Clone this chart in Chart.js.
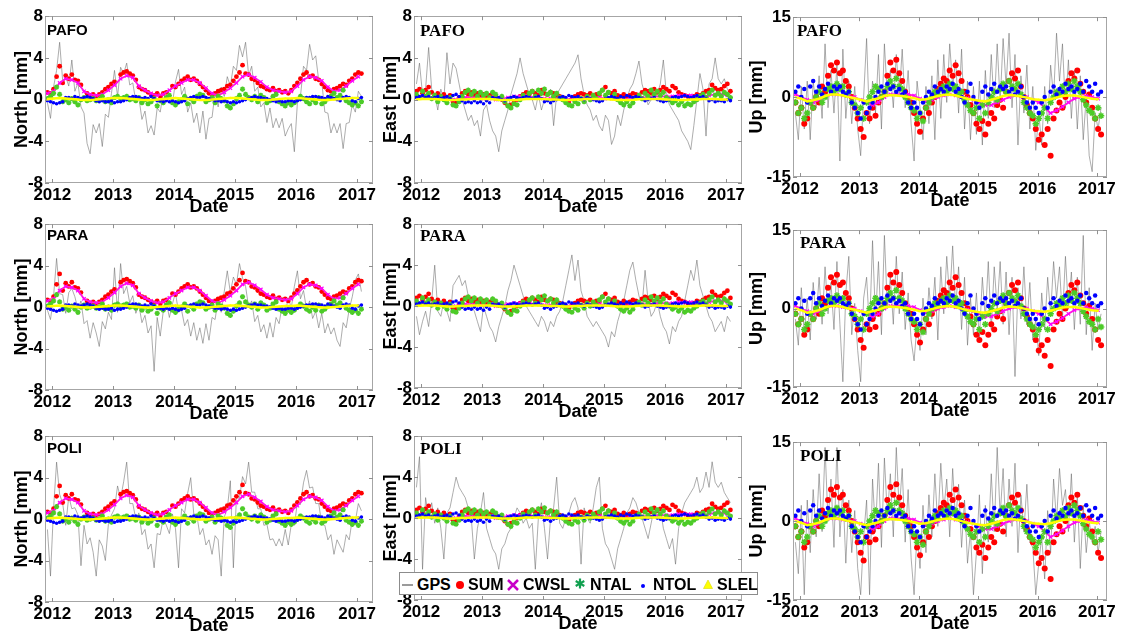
<!DOCTYPE html>
<html>
<head>
<meta charset="utf-8">
<script src="https://cdn.jsdelivr.net/npm/chart.js@4.4.1/dist/chart.umd.min.js"></script>
<style>
  html, body { margin: 0; padding: 0; background: #fff; }
  #page { position: relative; width: 1121px; height: 635px; overflow: hidden; background: #fff; }
  #page canvas { position: absolute; }
  .stn { position: absolute; font-weight: bold; color: #000; line-height: 1; white-space: nowrap; z-index: 5; }
  .stn.sans { font-family: "Liberation Sans", Arial, sans-serif; font-size: 15px; }
  .stn.serif { font-family: "Liberation Serif", "Times New Roman", serif; font-size: 17px; }
  #legend { position: absolute; left: 399px; top: 572px; width: 357px; height: 21px;
            border: 1px solid #8c8c8c; background: #fff; z-index: 10; }
  #legend span { position: absolute; top: 4px; font: bold 16px "Liberation Sans", Arial, sans-serif;
                 line-height: 1; color: #000; white-space: nowrap; }
  #legend svg { position: absolute; left: 0; top: 0; }
</style>
</head>
<body>
<div id="page">
  <div class="stn sans"  style="left:47px;top:22px">PAFO</div>
  <div class="stn serif" style="left:420px;top:22px">PAFO</div>
  <div class="stn serif" style="left:797px;top:22px">PAFO</div>
  <div class="stn sans"  style="left:47px;top:227px">PARA</div>
  <div class="stn serif" style="left:420px;top:227px">PARA</div>
  <div class="stn serif" style="left:800px;top:234px">PARA</div>
  <div class="stn sans"  style="left:47px;top:440px">POLI</div>
  <div class="stn serif" style="left:420px;top:440px">POLI</div>
  <div class="stn serif" style="left:800px;top:447px">POLI</div>

  <div id="legend">
    <svg width="357" height="21">
      <line x1="2" y1="12" x2="13" y2="12" stroke="#7a7a7a" stroke-width="1.5"/>
      <circle cx="60" cy="12" r="4" fill="#ff0000"/>
      <path d="M108 7 L118 17 M118 7 L108 17" stroke="#c800c8" stroke-width="2.5" fill="none"/>
      <path d="M180 5.5 L180 15.5 M175.7 8 L184.3 13 M175.7 13 L184.3 8" stroke="#11a050" stroke-width="2.2" fill="none"/>
      <circle cx="243" cy="13" r="2" fill="#0000ff"/>
      <polygon points="308,7 312.5,15.5 303.5,15.5" fill="#ffff00" stroke="#d8d800" stroke-width="0.6"/>
    </svg>
    <span style="left:17px">GPS</span>
    <span style="left:68px">SUM</span>
    <span style="left:123px">CWSL</span>
    <span style="left:190px">NTAL</span>
    <span style="left:253px">NTOL</span>
    <span style="left:317px">SLEL</span>
  </div>
</div>

<script>
// ---------------------------------------------------------------------------
// Sampling epochs (decimal years): dense series every 0.05 yr, smooth models every 0.1 yr
// ---------------------------------------------------------------------------
const EPOCH_START = 2011.92;
const EPOCH_STEP = 0.05;
const EPOCH_COUNT = 104;
const MODEL_STEP = 0.1;
const MODEL_COUNT = 52;

const YEAR_TICKS = [2012, 2013, 2014, 2015, 2016, 2017];
const NE_TICKS = [-8, -4, 0, 4, 8];
const UP_TICKS = [-15, 0, 15];

// ---------------- North component, loading models [mm] ----------------
const NORTH_SUM = [
  0.7,0.6,1.0,2.2,3.2,1.6,2.3,2.0,2.4,1.9,1.8,1.4,null,0.6,0.4,0.5,0.3,0.5,0.7,1.0,
  1.2,1.5,1.7,null,2.4,2.6,2.7,2.5,2.3,1.9,1.2,1.0,0.9,0.7,0.5,0.4,0.6,0.3,0.6,0.7,
  null,1.3,1.2,1.5,1.8,2.0,2.2,1.9,2.0,1.8,1.5,1.2,0.9,0.6,0.5,0.6,0.8,0.9,1.0,1.3,
  1.4,1.8,2.2,2.6,3.3,2.5,2.4,2.0,1.9,1.6,1.3,1.2,1.0,0.9,1.1,0.8,0.9,0.7,0.8,0.6,
  0.9,1.3,1.6,2.0,2.4,2.6,2.2,2.3,2.0,1.9,1.5,1.2,0.9,0.8,1.0,1.1,1.3,1.5,1.4,1.8,
  2.0,2.4,2.6,2.5
];
const NORTH_NTAL = [
  0.1,0.3,0.6,1.2,0.5,-0.2,0.0,-0.3,0.1,-0.2,-0.5,0.0,0.2,-0.1,0.0,0.1,-0.1,0.0,0.3,-0.2,
  0.0,-0.3,0.2,0.3,0.1,0.2,0.3,0.0,0.1,-0.1,0.2,-0.3,0.0,-0.4,-0.2,0.1,-0.6,-0.1,-0.3,0.2,
  0.4,-0.3,-0.5,-0.2,0.0,0.3,-0.4,0.1,-0.2,0.3,0.5,0.4,-0.2,0.0,0.2,-0.3,0.3,0.1,-0.1,-0.6,
  -0.8,-0.4,0.1,0.4,1.0,0.5,0.2,0.0,0.3,-0.2,0.4,0.2,-0.3,-0.1,0.3,0.5,-0.2,-0.4,-0.6,-0.3,
  -0.5,-0.3,0.0,0.3,0.1,-0.2,-0.4,0.0,-0.3,0.2,-0.4,-0.2,0.1,0.3,0.6,0.2,0.4,0.9,-0.1,-0.3,
  -0.5,-0.3,-0.6,-0.2
];
const NORTH_NTOL = [
  -0.1,-0.2,-0.3,-0.4,-0.3,-0.2,0.2,0.2,0.1,0.3,0.2,0.1,0.2,0.3,0.2,0.1,-0.1,-0.2,-0.1,-0.2,
  -0.2,-0.1,-0.3,-0.2,-0.2,-0.1,0.0,0.2,0.3,0.3,0.2,0.1,0.2,0.1,0.3,0.1,-0.1,-0.1,-0.2,-0.1,
  -0.2,-0.1,-0.2,-0.3,-0.2,-0.1,0.1,0.2,0.3,0.2,0.2,0.3,0.2,0.1,0.0,-0.1,-0.1,-0.2,-0.1,-0.2,
  -0.3,-0.2,-0.3,-0.2,-0.1,0.0,0.1,0.2,0.3,0.2,0.2,0.1,0.1,0.0,-0.1,-0.2,-0.1,-0.2,-0.2,-0.1,
  -0.1,-0.2,-0.1,0.0,0.1,0.2,0.2,0.3,0.3,0.2,0.2,0.1,0.3,0.2,0.1,0.0,-0.1,0.2,0.3,0.2,
  -0.1,-0.2,0.1,0.2
];
const NORTH_CWSL = [
  0.6,0.8,1.6,2.0,1.9,1.6,0.8,0.5,0.4,0.5,
  0.9,1.4,2.0,2.3,2.1,1.3,0.9,0.6,0.4,0.5,
  0.9,1.3,1.6,1.9,1.9,1.6,1.1,0.6,0.4,0.7,
  1.1,1.6,2.2,2.4,2.1,1.7,1.2,0.9,0.8,0.7,
  0.8,1.3,1.9,2.2,2.1,1.8,1.2,0.8,0.9,1.3,
  1.8,2.2
];
const NORTH_SLEL = [
  0.05,0.1,0.15,0.1,0.05,0.0,-0.05,-0.05,0.0,0.05,
  0.1,0.15,0.15,0.1,0.05,0.0,-0.05,-0.05,0.0,0.05,
  0.1,0.15,0.1,0.05,0.0,-0.05,-0.05,0.0,0.05,0.1,
  0.15,0.15,0.1,0.05,0.0,-0.05,-0.05,0.0,0.05,0.1,
  0.1,0.15,0.1,0.05,0.0,-0.05,-0.05,0.0,0.05,0.1,
  0.15,0.15
];

// ---------------- East component, loading models [mm] ----------------
const EAST_SUM = [
  0.8,1.0,0.6,0.9,1.2,0.7,0.4,0.6,0.3,0.5,0.2,0.4,-0.2,-0.3,0.2,0.6,0.8,0.5,0.7,0.4,
  0.6,0.3,0.5,0.2,0.4,0.6,0.3,0.1,0.0,-0.3,-0.6,-0.5,-0.3,0.0,0.3,0.5,0.7,0.5,0.8,0.6,
  0.4,0.9,0.6,0.5,0.7,0.6,0.4,0.3,0.2,-0.1,-0.2,0.1,0.3,0.5,0.6,0.5,0.4,0.6,0.3,0.5,
  0.4,0.9,1.2,0.7,0.6,0.8,0.4,0.3,0.5,0.2,0.4,0.6,0.5,0.3,0.7,0.9,0.8,0.6,1.0,0.7,
  0.9,1.2,1.0,0.8,1.3,1.1,0.7,0.5,0.4,0.3,0.2,0.3,0.5,0.4,0.6,0.8,0.9,1.4,1.1,0.9,
  1.0,1.3,1.5,0.8
];
const EAST_NTAL = [
  0.5,0.2,0.8,0.3,0.6,0.1,0.4,-0.2,0.3,0.0,-0.3,0.2,-0.5,-0.6,-0.2,0.3,0.7,0.9,0.5,0.8,
  0.3,0.7,0.4,0.6,0.2,0.7,0.5,0.1,0.3,-0.2,-0.6,-0.8,-0.4,-0.5,0.0,0.4,0.2,0.6,0.8,0.3,
  0.9,0.6,1.0,0.5,0.7,0.3,0.6,0.2,0.0,-0.3,-0.5,-0.6,-0.2,-0.4,0.1,-0.2,0.3,0.0,0.4,0.1,
  0.6,0.9,0.4,0.7,0.2,0.5,0.0,-0.3,-0.5,-0.2,-0.6,-0.3,0.2,0.4,0.1,0.6,0.3,0.9,0.5,0.8,
  0.4,0.7,0.2,0.0,-0.3,-0.1,-0.5,-0.2,-0.6,-0.4,-0.5,-0.2,0.0,0.3,0.5,0.2,0.6,0.9,0.4,0.6,
  0.3,0.7,0.5,0.2
];
const EAST_NTOL = [
  0.2,0.3,0.4,0.2,0.3,0.1,0.2,0.3,0.1,0.2,0.3,0.1,0.4,0.5,0.3,-0.1,-0.3,-0.2,-0.3,-0.1,
  -0.3,-0.2,-0.4,-0.1,-0.3,0.2,0.1,0.2,0.0,-0.1,0.1,0.2,0.3,0.2,0.1,0.2,0.3,0.2,0.1,0.2,
  0.3,0.1,-0.2,-0.1,-0.3,-0.1,0.0,0.2,0.3,0.2,0.4,0.3,0.2,0.3,0.1,0.0,0.2,0.1,0.0,-0.1,
  -0.2,-0.1,0.1,0.2,0.3,0.2,0.1,0.3,0.2,0.4,0.3,0.2,0.3,0.2,0.1,-0.1,0.0,0.1,0.2,0.0,
  -0.1,-0.2,-0.1,0.0,0.2,0.3,0.2,0.3,0.4,0.3,0.2,0.3,0.4,0.2,0.3,0.1,-0.1,0.0,-0.2,-0.1,
  -0.1,-0.2,0.0,-0.1
];
const EAST_CWSL = [
  0.3,0.3,0.2,0.2,0.1,0.0,0.0,0.1,0.2,0.2,
  0.2,0.1,0.1,0.0,0.1,0.2,0.3,0.3,0.2,0.2,
  0.2,0.1,0.1,0.1,0.0,0.0,0.1,0.1,0.2,0.2,
  0.2,0.1,0.1,0.0,0.0,0.1,0.2,0.2,0.2,0.3,
  0.3,0.3,0.3,0.4,0.4,0.4,0.3,0.3,0.4,0.5,
  0.5,0.4
];
const EAST_SLEL = [
  0.0,0.05,0.05,0.05,0.0,-0.05,-0.05,0.0,0.0,0.05,
  0.05,0.05,0.05,0.0,-0.05,-0.05,-0.05,0.0,0.05,0.05,
  0.05,0.05,0.0,0.0,-0.05,-0.05,0.0,0.0,0.05,0.05,
  0.05,0.05,0.0,-0.05,-0.05,-0.05,0.0,0.05,0.05,0.05,
  0.05,0.0,0.0,-0.05,-0.05,0.0,0.0,0.05,0.05,0.05,
  0.0,0.0
];

// ---------------- Up component, loading models [mm] ----------------
const UP_SUM = [
  -1,-3,-2,-5,-4,-1,-2,0,-1,2,1,4,6,5,6.5,4.5,5,3,2,0,
  -2,-4,-6,-7.5,-3,-4,-2,-3.5,-1,0,1,4,6.5,5,7,4.5,3,1,0,-1,
  -3,-5,-6.5,-4,-2,-3,-1,0,1.5,2.5,3.5,3,5,4,6,4.5,3,1,0,-1.5,
  -3,-5,-6,-4.5,-7,-5,-3,-4,-1.5,-0.5,-2,1,3,4.5,3.5,5,2,0,-1.5,-3,
  -4,-6,-8,-7,-9,-6,-11,-4,-2.5,-1,-2,0,3,4.5,3.5,5,2.5,1,-1,0.5,
  -2,-4,-6,-7
];
const UP_NTAL = [
  -1,-3,-2,-4,-3,-1,-2,0,1,-1,0,1.5,2,1,2.5,1.5,2,0.5,1,-1,
  -1.5,-3,-2,-4,-1,0,1,2,1.5,0,1,2,3,2,3.5,2,1.5,0,-1,-2,
  -2.5,-4,-3,-4.5,-2,-1,0,1,0.5,1.5,2,1,2.5,1.5,2,0.5,1,-0.5,-1.5,-2.5,
  -3,-2,-4,-1.5,-3,-1,0,1,-0.5,1.5,2.5,1,3,2,1.5,2.5,0.5,-1,-2,-3,
  -3.5,-5,-4,-3,-2,-4,-1,0,1,0.5,2,1,2.5,1.5,3,2,1,-0.5,-1.5,-2.5,
  -3,-4,-2,-3.5
];
const UP_NTOL = [
  1,2,0,1.5,-1,2,3,1,2,0.5,1.5,2.5,1,2,1.5,2,1,0.5,1,-1,
  -2,-3,-4,-1,-3,-2,-1,0,1,2,1,2.5,1.5,2,1,1.5,0.5,1,-1,-2,
  -1,-2,-3,-1,0,1,0.5,2,1,1.5,1,2,1.5,2.5,1,1.5,0,-1,1,2.5,
  0,-1,-2,1,2,0.5,1.5,2.5,1,2,1.5,2,1,1.5,0.5,1,2,0,-1,-2,
  -1,-2,-3,-1,0,-2,1,2,0.5,1.5,1,2.5,1.5,2,1,1.5,2.5,1,3,2,
  1,2.5,0.5,1
];
const UP_CWSL = [
  0.5,0.0,-0.5,-1.0,-0.5,0.0,0.5,0.5,0.3,0.2,
  0.0,-0.5,-1.0,-1.5,-1.0,0.0,0.5,0.5,0.5,0.5,
  0.3,-0.3,-0.8,-0.5,0.0,0.3,0.5,0.3,0.0,-0.2,
  -0.5,-1.0,-1.5,-1.5,-1.0,-0.5,0.0,0.3,0.2,0.0,
  -0.5,-1.0,-2.0,-3.0,-2.5,-1.8,-1.0,-0.3,0.0,0.2,
  0.0,-0.3
];
const UP_SLEL = [
  0.0,-0.3,-0.8,-0.6,-0.3,0.2,0.5,0.5,0.3,0.0,
  -0.2,-0.5,-0.8,-0.5,-0.2,0.2,0.4,0.3,0.2,0.0,
  -0.2,-0.5,-0.4,-0.1,0.2,0.4,0.5,0.3,0.0,-0.3,
  -0.5,-0.7,-0.8,-0.5,-0.2,0.2,0.4,0.3,0.1,-0.1,
  -0.4,-0.5,-0.6,-0.4,-0.1,0.2,0.3,0.3,0.1,-0.1,
  -0.3,-0.4
];

// ---------------- GPS residual time series per station [mm] ----------------
const GPS_PAFO_N = [
  -0.3,-1.8,1.2,2.8,5.5,1.8,2.2,1.3,3.8,0.8,1.6,-0.7,-1.3,-4.2,-5.2,-2.4,-3.2,-2.3,-4.5,-1.4,
  -1.7,0.6,2.8,0.3,3.1,2.5,3.5,1.4,1.6,-0.2,0.2,-1.9,-1.1,-3.2,-2.5,-3.4,-0.8,-1.2,0.7,-0.2,
  0.2,-0.4,1.7,2.9,0.5,1.2,-1.2,-0.3,-2.2,-1.3,-3.2,-1.1,-3.8,-1.8,-1.7,0.7,-0.7,1.2,0.3,2.2,
  1.3,3.2,2.8,5.2,4.1,5.5,2.3,3.2,0.8,1.2,-0.7,-0.3,-2.2,-0.8,-2.7,-1.8,-2.7,-1.8,-3.5,-2.8,
  -2.3,-5.0,-0.3,0.3,3.2,2.8,5.3,3.8,4.2,1.8,1.7,-1.2,-1.3,-3.2,-2.3,-3.2,-2.3,-4.7,-2.3,-2.2,
  -0.5,-1.2,0.8,0.3
];
const GPS_PARA_N = [
  -0.3,-1.2,1.0,4.7,1.3,1.2,-0.6,1.4,1.8,1.0,-0.2,0.6,-1.6,-1.3,-3.0,-1.5,-2.5,-3.8,-1.4,-2.1,
  -0.5,-1.2,3.8,-0.5,4.2,1.3,2.0,0.4,1.1,-0.6,0.2,-1.5,-0.8,-2.5,-1.8,-6.2,-1.0,-2.8,-0.4,0.5,
  -1.0,0.3,1.4,-0.5,-0.3,-1.8,-1.2,-2.8,-1.5,-3.2,-2.0,-3.5,-1.6,-3.2,-1.0,-1.2,0.8,-0.5,1.5,3.5,
  1.4,2.9,2.2,4.2,2.8,2.0,0.0,0.6,-1.4,-0.8,-2.4,-1.7,-3.0,-1.5,-2.9,-1.0,-1.6,0.2,-0.6,0.9,
  -0.1,2.0,3.5,0.8,1.6,-0.2,0.6,-1.1,-0.4,-2.0,-0.6,-2.5,-1.6,-2.6,-2.0,-3.2,-3.8,-1.5,-2.0,-0.2,
  1.0,2.6,3.2,1.5
];
const GPS_POLI_N = [
  -1.0,-5.5,1.0,5.5,2.4,1.5,-0.6,2.2,1.0,1.1,0.4,-4.5,-0.6,-2.4,-1.8,-3.2,-5.5,-2.0,-2.6,-4.0,
  -0.5,0.4,1.0,3.2,2.0,3.6,5.5,1.5,1.5,0.0,0.6,-1.5,-1.0,-2.9,-2.4,-4.7,-1.4,-1.5,0.1,-0.6,
  -1.4,0.5,-0.9,-4.7,1.0,0.6,2.5,4.0,0.5,0.4,-1.5,-0.9,-2.5,-2.0,-3.4,-1.6,-2.0,-5.5,0.2,1.0,
  3.7,-4.7,2.1,2.0,4.1,3.4,5.5,2.6,2.6,1.0,1.0,-0.6,-0.5,-2.0,-1.9,-2.6,-1.9,-2.6,-1.0,-2.5,
  -0.5,-0.6,1.6,1.4,3.5,4.7,3.0,3.1,1.5,1.5,-0.5,-0.6,-2.0,-1.5,-3.4,-2.0,-2.6,-3.2,-1.5,-2.0,
  0.0,-0.2,1.5,0.8
];
const GPS_PAFO_E = [
  1.5,3.5,0.5,1.0,5.0,1.0,0.5,-1.0,1.0,0.0,4.5,1.5,3.5,3.0,1.5,0.0,-1.0,-2.0,-1.5,-2.5,
  -2.0,-3.5,-1.0,-0.5,-2.0,-3.0,-3.5,-5.0,-3.0,-2.0,-1.0,0.5,1.5,2.5,4.0,2.5,1.5,0.5,0.0,-1.0,
  0.5,-1.0,0.0,0.5,1.0,-2.5,0.5,1.0,1.5,2.0,2.5,3.0,3.5,4.3,2.0,0.5,-0.5,-1.0,-2.0,-1.5,
  -2.5,-3.0,-1.5,-2.0,-4.3,-3.5,-1.5,-2.5,-1.0,0.0,1.0,1.5,2.5,3.7,1.5,0.5,-0.5,0.0,1.0,0.5,
  1.5,3.8,0.5,-0.5,-1.0,-1.5,-2.0,-3.0,-3.5,-4.0,-4.8,-2.5,0.0,2.5,1.0,-3.5,1.5,2.0,4.0,2.0,
  1.5,2.0,1.0,0.5
];
const GPS_PARA_E = [
  -1.0,-2.8,-1.5,-0.5,-2.0,0.5,4.0,-0.5,-1.0,0.5,-0.5,-1.5,2.0,2.5,3.0,2.0,2.5,1.0,0.0,-0.5,
  -1.5,-2.5,0.0,-1.0,-2.0,-2.5,-3.5,-2.0,-1.0,0.0,1.5,2.5,4.0,3.0,2.0,1.0,0.0,-0.5,-1.0,-1.5,
  -2.0,-1.0,-1.5,-2.5,-1.5,-2.0,-1.0,-0.5,0.5,2.0,3.5,5.0,2.5,4.5,1.5,0.5,-1.0,-1.5,-2.0,-1.5,
  -2.0,-2.5,-3.0,-4.0,-2.5,-3.0,-1.5,-0.5,0.5,2.0,3.5,4.3,2.5,1.0,0.0,3.5,0.5,-1.0,-0.5,0.5,
  -1.0,-2.0,-2.5,-3.7,-2.0,-2.5,-1.5,-1.0,0.5,2.0,3.5,2.5,4.5,2.0,1.0,0.0,-1.0,-1.5,-2.5,-2.0,
  -1.5,-2.5,-1.0,-1.5
];
const GPS_POLI_E = [
  3.0,6.0,-5.0,2.0,0.0,1.5,-0.5,1.0,-1.0,-4.0,0.5,1.0,2.5,4.0,3.0,2.5,2.0,1.0,0.0,-4.0,
  -1.0,0.5,2.5,-1.0,-2.0,-3.0,-3.5,-5.0,-3.0,-2.5,-1.5,-1.0,0.0,1.0,0.5,-0.5,0.0,-1.0,-0.5,-5.0,
  0.0,1.5,-1.0,-4.0,0.0,1.0,4.0,-0.5,-1.0,0.0,0.5,1.5,2.0,1.0,-4.5,1.0,0.0,-0.5,1.0,3.0,
  4.0,-1.0,-2.5,-3.0,-4.0,-5.0,-3.0,-2.0,-1.0,0.5,1.0,2.0,1.5,0.5,0.0,-1.0,-2.0,-0.5,1.0,0.5,
  1.0,-1.0,-2.0,-3.0,-2.0,-4.5,-1.0,0.5,1.5,2.0,2.5,3.0,4.0,2.5,3.0,4.5,3.0,5.5,3.5,3.0,
  3.5,2.5,2.0,1.5
];
const GPS_PAFO_U = [
  -3,-8,2,-6,3,-8,3,-2,4,-4,10,-2,5,-3,6,-12,9,-4,3,-5,
  2,-6,-11,0,11,-5,3,-3,8,-6,10,0,5,-2,8,0,9,-2,5,-5,
  -12,3,-2,-8,2,-5,4,-8,7,-4,8,-1,10,2,7,-3,9,-6,3,-8,
  2,-7,3,-9,5,-4,8,-2,10,-1,11,2,12,-2,8,-9,4,-3,6,-6,
  2,-10,-3,-9,2,-5,6,0,12,3,10,-2,7,-4,5,-6,4,-8,0,-11,
  -14,-3,-6,-2
];
const GPS_PARA_U = [
  -2,-7,4,-5,2,-6,5,-2,6,-3,8,-1,5,-4,9,-3,-14,3,10,-5,
  1,-8,-14,2,6,-4,13,-2,9,-5,14,0,6,-3,10,-1,7,-4,3,-6,
  -10,-3,-8,2,-5,4,-2,6,-6,8,-1,10,2,12,0,8,-4,6,-7,2,
  -5,3,-6,6,-2,9,-4,8,0,9,-3,7,-5,6,-13,4,-2,8,-3,5,
  -6,-2,-9,3,-4,6,-1,9,2,8,-2,10,0,7,-4,6,-3,14,-5,4,
  -8,1,-4,-1
];
const GPS_POLI_U = [
  -4,-10,3,-14,4,-6,6,-3,9,-2,14,0,8,-5,14,-3,6,-8,4,-6,
  2,-9,-14,-3,4,-14,8,-2,11,-5,12,1,9,-3,14,2,10,-4,6,-7,
  -14,-2,-9,3,-6,5,-3,9,-1,11,2,8,-3,10,0,7,-5,4,-8,-2,
  -14,-6,5,-10,3,-4,9,-2,14,1,10,-3,8,-1,11,-6,5,-2,7,-4,
  -5,-14,-8,-3,-11,2,-6,8,0,10,3,6,-2,9,-4,5,-9,3,-6,0,
  -4,-1,-6,-2
];

// ---------------------------------------------------------------------------
// Rendering
// ---------------------------------------------------------------------------
const FONT = '"Liberation Sans", Arial, sans-serif';

const EPOCHS = Array.from({length: EPOCH_COUNT}, (_, i) => +(EPOCH_START + i * EPOCH_STEP).toFixed(3));
const MODEL_EPOCHS = Array.from({length: MODEL_COUNT}, (_, i) => +(EPOCH_START + i * MODEL_STEP).toFixed(3));

const MODELS = {
  N: {SUM: NORTH_SUM, NTAL: NORTH_NTAL, NTOL: NORTH_NTOL, CWSL: NORTH_CWSL, SLEL: NORTH_SLEL},
  E: {SUM: EAST_SUM,  NTAL: EAST_NTAL,  NTOL: EAST_NTOL,  CWSL: EAST_CWSL,  SLEL: EAST_SLEL},
  U: {SUM: UP_SUM,    NTAL: UP_NTAL,    NTOL: UP_NTOL,    CWSL: UP_CWSL,    SLEL: UP_SLEL}
};

const COMPONENTS = {
  N: {title: 'North [mm]', min: -8,  max: 8,  ticks: NE_TICKS, xmax: 2017.26, yw: 45, tpad: 11, dot: 1.0},
  E: {title: 'East [mm]',  min: -8,  max: 8,  ticks: NE_TICKS, xmax: 2017.26, yw: 45, tpad: 11, dot: 1.0},
  U: {title: 'Up [mm]',    min: -15, max: 15, ticks: UP_TICKS, xmax: 2017.17, yw: 50, tpad: 3,  dot: 1.25}
};

// plot rectangles [left, top, right, bottom] in page pixels
const PANELS = [
  {comp: 'N', gps: GPS_PAFO_N, box: [45, 16, 373, 183]},
  {comp: 'E', gps: GPS_PAFO_E, box: [414, 16, 742, 183]},
  {comp: 'U', gps: GPS_PAFO_U, box: [793, 17, 1107, 177]},
  {comp: 'N', gps: GPS_PARA_N, box: [45, 224, 373, 390]},
  {comp: 'E', gps: GPS_PARA_E, box: [414, 224, 742, 388]},
  {comp: 'U', gps: GPS_PARA_U, box: [793, 230, 1107, 387]},
  {comp: 'N', gps: GPS_POLI_N, box: [45, 436, 373, 602]},
  {comp: 'E', gps: GPS_POLI_E, box: [414, 436, 742, 600]},
  {comp: 'U', gps: GPS_POLI_U, box: [793, 442, 1107, 600]}
];

function toPoints(xs, ys) {
  return xs.map((x, i) => ({x: x, y: ys[i] === undefined ? null : ys[i]}));
}

// axes box with small inward tick marks
const framePlugin = {
  id: 'frame',
  afterDraw(chart) {
    const {ctx, chartArea: a, scales} = chart;
    ctx.save();
    ctx.strokeStyle = '#a6a6a6';
    ctx.lineWidth = 1;
    ctx.strokeRect(Math.round(a.left) + 0.5, Math.round(a.top) + 0.5,
                   Math.round(a.right - a.left) - 1, Math.round(a.bottom - a.top) - 1);
    ctx.strokeStyle = '#909090';
    ctx.beginPath();
    scales.x.ticks.forEach(t => {
      const px = Math.round(scales.x.getPixelForValue(t.value)) + 0.5;
      ctx.moveTo(px, a.bottom); ctx.lineTo(px, a.bottom - 4);
      ctx.moveTo(px, a.top); ctx.lineTo(px, a.top + 4);
    });
    scales.y.ticks.forEach(t => {
      const py = Math.round(scales.y.getPixelForValue(t.value)) + 0.5;
      ctx.moveTo(a.left, py); ctx.lineTo(a.left + 4, py);
      ctx.moveTo(a.right, py); ctx.lineTo(a.right - 4, py);
    });
    ctx.stroke();
    ctx.restore();
  }
};

const page = document.getElementById('page');

PANELS.forEach(p => {
  const c = COMPONENTS[p.comp];
  const m = MODELS[p.comp];
  const k = c.dot;
  const [x0, y0, x1, y1] = p.box;
  const T = 12, R = 14, B = 35, L = c.yw;

  const cv = document.createElement('canvas');
  cv.width = (x1 - x0) + L + R;
  cv.height = (y1 - y0) + T + B;
  cv.style.left = (x0 - L) + 'px';
  cv.style.top = (y0 - T) + 'px';
  page.insertBefore(cv, page.firstChild);

  const datasets = [
    {label: 'SLEL', data: toPoints(MODEL_EPOCHS, m.SLEL), order: 1, showLine: true,
     borderColor: '#ffff00', borderWidth: 2.5, pointStyle: 'triangle', pointRadius: 1.6,
     pointBackgroundColor: '#ffff00', pointBorderWidth: 0},
    {label: 'NTOL', data: toPoints(EPOCHS, m.NTOL), order: 2, showLine: false,
     pointStyle: 'circle', pointRadius: 1.8 * k, pointBackgroundColor: '#0000ff', pointBorderWidth: 0},
    {label: 'NTAL', data: toPoints(EPOCHS, m.NTAL), order: 3, showLine: false,
     pointStyle: 'star', pointRadius: 2.6 * k, pointBorderColor: '#4ccb28', pointBorderWidth: 1.5,
     pointBackgroundColor: '#4ccb28'},
    {label: 'CWSL', data: toPoints(MODEL_EPOCHS, m.CWSL), order: 4, showLine: true,
     borderColor: '#ff1ae0', borderWidth: 1.8, pointStyle: 'crossRot', pointRadius: 2.4,
     pointBorderColor: '#ff00ff', pointBorderWidth: 1.2},
    {label: 'SUM', data: toPoints(EPOCHS, m.SUM), order: 5, showLine: false,
     pointStyle: 'circle', pointRadius: 2.4 * k, pointBackgroundColor: '#ff0000', pointBorderWidth: 0},
    {label: 'GPS', data: toPoints(EPOCHS, p.gps), order: 6, showLine: true, spanGaps: false,
     borderColor: 'rgba(105,105,105,0.55)', borderWidth: 1, pointRadius: 0}
  ];

  new Chart(cv, {
    type: 'line',
    data: {datasets: datasets},
    options: {
      responsive: false,
      animation: false,
      events: [],
      layout: {padding: {top: T, right: R, bottom: 0, left: 0}},
      plugins: {legend: {display: false}, tooltip: {enabled: false}},
      elements: {line: {tension: 0}},
      scales: {
        x: {
          type: 'linear', min: 2011.88, max: c.xmax,
          grid: {display: false, drawTicks: false, tickLength: 0}, border: {display: false},
          afterBuildTicks: s => { s.ticks = YEAR_TICKS.map(v => ({value: v})); },
          afterFit: s => { s.height = B; },
          ticks: {color: '#000', padding: 2, maxRotation: 0, autoSkip: false,
                  font: {family: FONT, size: 17, weight: 'bold'},
                  callback: v => String(v)},
          title: {display: true, text: 'Date', color: '#000', padding: 0,
                  font: {family: FONT, size: 18, weight: 'bold'}}
        },
        y: {
          type: 'linear', min: c.min, max: c.max,
          grid: {display: false, drawTicks: false, tickLength: 0}, border: {display: false},
          afterBuildTicks: s => { s.ticks = c.ticks.map(v => ({value: v})); },
          afterFit: s => { s.width = L; },
          ticks: {color: '#000', padding: 2,
                  font: {family: FONT, size: 17, weight: 'bold'},
                  callback: v => String(v)},
          title: {display: true, text: c.title, color: '#000', padding: {top: c.tpad, bottom: 0},
                  font: {family: FONT, size: 18, weight: 'bold'}}
        }
      }
    },
    plugins: [framePlugin]
  });
});
</script>
</body>
</html>
